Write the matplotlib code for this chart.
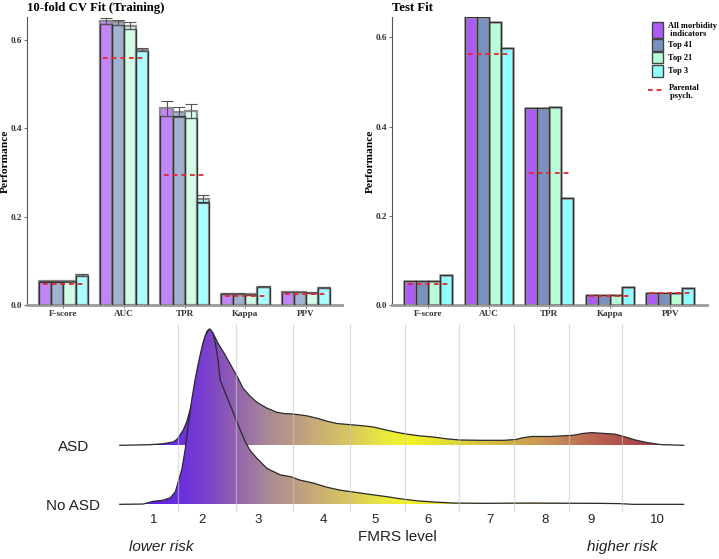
import numpy as np
import matplotlib
matplotlib.use("Agg")
import matplotlib.pyplot as plt
from matplotlib.colors import LinearSegmentedColormap, Normalize
from matplotlib.patches import Rectangle, Polygon

# ---------------- data ----------------
metrics = ["F-score", "AUC", "TPR", "Kappa", "PPV"]
model_labels = ["All morbidity\n indicators", "Top 41", "Top 21", "Top 3"]

train_all = [0.055, 0.643, 0.446, 0.026, 0.030]
train_top41 = [0.055, 0.640, 0.437, 0.026, 0.030]
train_top21 = [0.054, 0.632, 0.440, 0.025, 0.028]
train_top3 = [0.069, 0.578, 0.240, 0.042, 0.040]

train_err_all = [0.001, 0.007, 0.017, 0.001, 0.001]
train_err_top41 = [0.001, 0.006, 0.012, 0.001, 0.001]
train_err_top21 = [0.001, 0.008, 0.016, 0.001, 0.001]
train_err_top3 = [0.002, 0.003, 0.009, 0.001, 0.002]

train_low_all = [0.053, 0.636, 0.429, 0.025, 0.029]
train_low_top41 = [0.053, 0.633, 0.428, 0.025, 0.029]
train_low_top21 = [0.052, 0.624, 0.424, 0.024, 0.027]
train_low_top3 = [0.066, 0.574, 0.233, 0.041, 0.038]

test_all = [0.054, 0.645, 0.441, 0.024, 0.028]
test_top41 = [0.054, 0.645, 0.441, 0.024, 0.028]
test_top21 = [0.054, 0.634, 0.443, 0.024, 0.028]
test_top3 = [0.068, 0.576, 0.239, 0.042, 0.038]

parental_train = [0.048, 0.559, 0.295, 0.020, 0.026]
parental_test = [0.048, 0.562, 0.295, 0.021, 0.027]

# ridgeline (FMRS level)
group_labels = ["ASD", "No ASD"]
fmrs_tick_pos = [1.07, 1.94, 2.95, 4.13, 5.06, 6.01, 7.13, 8.12, 8.96, 10.14]
fmrs_tick_labels = ["1", "2", "3", "4", "5", "6", "7", "8", "9", "10"]
fmrs_bounds = [1.5, 2.55, 3.58, 4.6, 5.6, 6.58, 7.56, 8.55, 9.5]

asd_x = [0.46, 1.00, 1.24, 1.42, 1.49, 1.55, 1.61, 1.67, 1.73, 1.79, 1.85, 1.91,
         1.97, 2.03, 2.07, 2.14, 2.23, 2.34, 2.46, 2.59, 2.68, 2.81, 2.93, 3.11,
         3.29, 3.41, 3.59, 3.83, 4.01, 4.19, 4.37, 4.61, 4.85, 5.03, 5.21, 5.45,
         5.63, 5.87, 6.11, 6.35, 6.59, 6.98, 7.39, 7.60, 7.73, 7.89, 8.22, 8.43,
         8.63, 8.80, 8.96, 9.21, 9.38, 9.54, 9.75, 9.96, 10.21, 10.62]
asd_h = [0.0, 0.01, 0.027, 0.056, 0.10, 0.18, 0.27, 0.41, 0.61, 0.85, 1.15, 1.49,
         1.76, 1.93, 1.97, 1.90, 1.73, 1.56, 1.36, 1.14, 0.97, 0.83, 0.73, 0.63,
         0.56, 0.54, 0.53, 0.50, 0.46, 0.41, 0.37, 0.35, 0.33, 0.31, 0.27, 0.22,
         0.19, 0.16, 0.14, 0.11, 0.09, 0.085, 0.085, 0.10, 0.13, 0.15, 0.15, 0.16,
         0.17, 0.20, 0.215, 0.20, 0.19, 0.15, 0.09, 0.046, 0.012, 0.0]

noasd_x = [0.46, 0.88, 1.06, 1.24, 1.37, 1.46, 1.51, 1.58, 1.64, 1.70, 1.76, 1.82,
           1.88, 1.94, 2.00, 2.06, 2.09, 2.14, 2.19, 2.23, 2.27, 2.39, 2.51, 2.63,
           2.72, 2.81, 2.93, 3.11, 3.35, 3.53, 3.71, 3.95, 4.19, 4.43, 4.73, 5.03,
           5.27, 5.51, 5.81, 6.11, 6.47, 7.01, 7.81, 9.04, 9.46, 9.71, 10.62]
noasd_h = [0.0, 0.005, 0.05, 0.07, 0.11, 0.21, 0.37, 0.60, 0.94, 1.39, 1.79, 2.13,
           2.41, 2.66, 2.86, 2.95, 2.97, 2.90, 2.69, 2.44, 2.10, 1.82, 1.54, 1.26,
           1.06, 0.91, 0.78, 0.61, 0.50, 0.47, 0.41, 0.36, 0.29, 0.24, 0.20, 0.16,
           0.13, 0.095, 0.06, 0.04, 0.022, 0.017, 0.022, 0.017, 0.012, 0.0, 0.0]

grad_x = [0.46, 1.5, 2.0, 2.5, 3.1, 3.7, 4.6, 5.2, 5.7, 6.7, 7.4, 8.2, 9.1, 9.8, 10.62]
grad_colors = ['#5018e8', '#6a2ee0', '#7a40cc', '#9060b0', '#a88898', '#c0a080',
               '#d8c860', '#e8e840', '#f2f22a', '#dcd03c', '#d0b444', '#c89058',
               '#b86050', '#a84848', '#a04444']

train_colors = ['#c386f9', '#a2b2d2', '#d2fde8', '#aaffff']
test_colors = ['#aa5cf5', '#7a90be', '#b7fdd8', '#90ffff']

# ---------------- figure ----------------
W, H = 719, 559
plt.rcParams['font.family'] = ['Liberation Serif', 'DejaVu Serif']
fig = plt.figure(figsize=(W / 100, H / 100), dpi=100)


def fr(l, t, r, b):
    return [l / W, 1 - b / H, (r - l) / W, (b - t) / H]


ax1 = fig.add_axes(fr(27, 17, 342.4, 305.3))
ax2 = fig.add_axes(fr(392, 17, 706.5, 305.3))
ax3 = fig.add_axes(fr(99.8, 324.35, 704.75, 512))

xg = np.arange(len(metrics))
bw = 0.2


def style_bar_axes(ax, title, ymax, label_x):
    ax.set_xlim(-0.6, len(metrics) - 0.4)
    ax.set_ylim(0, ymax)
    for s in ['top', 'right']:
        ax.spines[s].set_visible(False)
    ax.spines['left'].set_color('#555555')
    ax.spines['left'].set_linewidth(0.8)
    ax.spines['bottom'].set_color('#9a9a9a')
    ax.spines['bottom'].set_linewidth(2.0)
    ax.set_yticks([0, 0.2, 0.4, 0.6])
    ax.set_yticklabels(["0.0", "0.2", "0.4", "0.6"])
    ax.set_xticks(xg)
    ax.set_xticklabels(metrics)
    ax.tick_params(axis='both', length=2, width=0.6, color='#555555',
                   labelsize=6.6, labelcolor='#333333', pad=1.5)
    for lbl in ax.get_xticklabels() + ax.get_yticklabels():
        lbl.set_fontweight('bold')
    ax.set_ylabel("Performance", fontsize=8.2, fontweight='bold')
    ax.yaxis.set_label_coords(label_x, 0.5)
    ax.set_title(title, loc='left', fontsize=9.2, fontweight='bold', pad=4)


# ---- training panel ----
train_sets = [train_all, train_top41, train_top21, train_top3]
train_errs = [train_err_all, train_err_top41, train_err_top21, train_err_top3]
train_lows = [train_low_all, train_low_top41, train_low_top21, train_low_top3]
for j in range(4):
    xs = xg + (j - 1.5) * bw
    ax1.bar(xs, train_sets[j], bw, color=train_colors[j], edgecolor='#8c8c8c',
            linewidth=1.6, zorder=2)
    ax1.bar(xs, train_lows[j], bw, fill=False, edgecolor='#333333',
            linewidth=0.9, zorder=3)
    ax1.errorbar(xs, train_sets[j], yerr=train_errs[j], fmt='none',
                 ecolor='#555555', elinewidth=0.8, capsize=4.2, capthick=0.8,
                 zorder=4)
ax1.hlines(parental_train, xg - 0.34, xg + 0.34, colors='#e0262c',
           linestyles=(0, (2.6, 2.2)), linewidth=1.3, zorder=5)
style_bar_axes(ax1, "10-fold CV Fit (Training)", 0.652, -0.054)

# ---- test panel ----
test_sets = [test_all, test_top41, test_top21, test_top3]
for j in range(4):
    xs = xg + (j - 1.5) * bw
    ax2.bar(xs, test_sets[j], bw, color=test_colors[j], edgecolor='#9a9a9a',
            linewidth=1.8, zorder=2)
    ax2.bar(xs, test_sets[j], bw, fill=False, edgecolor='#333333',
            linewidth=0.9, zorder=3)
ax2.hlines(parental_test, xg - 0.34, xg + 0.34, colors='#e0262c',
           linestyles=(0, (2.6, 2.2)), linewidth=1.3, zorder=5)
style_bar_axes(ax2, "Test Fit", 0.645, -0.055)

# ---- legend (drawn in figure pixel space) ----
lg = fig.add_axes([0, 0, 1, 1], zorder=10)
lg.set_xlim(0, W)
lg.set_ylim(H, 0)
lg.axis('off')
key_boxes = [(21.7, 38.3), (39.3, 50.7), (51.9, 63.3), (65.0, 76.7)]
for (t, b), col, lab in zip(key_boxes, test_colors, model_labels):
    lg.add_patch(Rectangle((651.7, t), 11.6, b - t, facecolor=col,
                           edgecolor='#444444', linewidth=1.0))
    lg.text(668.5, (t + b) / 2, lab, fontsize=6.0, fontweight='bold',
            va='center', ha='left', linespacing=1.1)
lg.plot([648.3, 662.5], [90, 90], color='#e0262c', lw=1.3,
        linestyle=(0, (2.6, 2.2)))
lg.text(668.5, 92, "Parental\n psych.", fontsize=6.0, fontweight='bold',
        va='center', ha='left', linespacing=1.1)

# ---- ridgeline panel ----
sans = ['Liberation Sans', 'DejaVu Sans']
ax3.set_xlim(0.1, 11.0)
ax3.set_ylim(-0.13, 3.05)
for s in ax3.spines.values():
    s.set_visible(False)

pos = [(grad_x[i] - grad_x[0]) / (grad_x[-1] - grad_x[0])
       for i in range(len(grad_x))]
cmap = LinearSegmentedColormap.from_list('fmrs', list(zip(pos, grad_colors)))
grad = np.linspace(grad_x[0], grad_x[-1], 800)[None, :]

ridges = [(asd_x, asd_h, 1.0, 2), (noasd_x, noasd_h, 0.0, 4)]
for xs, hs, base, z in ridges:
    xs = np.array(xs)
    ys = base + np.array(hs)
    verts = [(xs[0], base)] + list(zip(xs, ys)) + [(xs[-1], base)]
    poly = Polygon(verts, closed=True, facecolor='none', edgecolor='none',
                   transform=ax3.transData)
    im = ax3.imshow(grad, extent=(grad_x[0], grad_x[-1], base, base + max(hs) + 0.05),
                    aspect='auto', cmap=cmap,
                    norm=Normalize(grad_x[0], grad_x[-1]), origin='lower',
                    zorder=z, interpolation='bilinear')
    im.set_clip_path(poly)
    ax3.plot(xs, ys, color='#2a2a2a', lw=0.9, zorder=z + 0.5,
             solid_joinstyle='round')

for b in fmrs_bounds:
    ax3.axvline(b, color='#c8c8c8', alpha=0.6, lw=0.9, zorder=6)

ax3.set_xticks(fmrs_tick_pos)
ax3.set_xticklabels(fmrs_tick_labels, family=sans, fontsize=9.5)
ax3.set_yticks([1, 0])
ax3.set_yticklabels(group_labels, family=sans, fontsize=11)
ax3.tick_params(axis='x', length=0, pad=1.5, labelcolor='#222222')
ax3.tick_params(axis='y', length=0, pad=19, labelcolor='#222222')
for lbl in ax3.get_yticklabels():
    lbl.set_ha('center')

fig.text(397.5 / W, 1 - 537 / H, "FMRS level", family=sans, fontsize=11,
         ha='center', va='center', color='#222222')
fig.text(160.8 / W, 1 - 547 / H, "lower risk", family=sans, fontsize=11,
         style='italic', ha='center', va='center', color='#222222')
fig.text(622.7 / W, 1 - 547 / H, "higher risk", family=sans, fontsize=11,
         style='italic', ha='center', va='center', color='#222222')

fig.savefig("out.png", dpi=100)
